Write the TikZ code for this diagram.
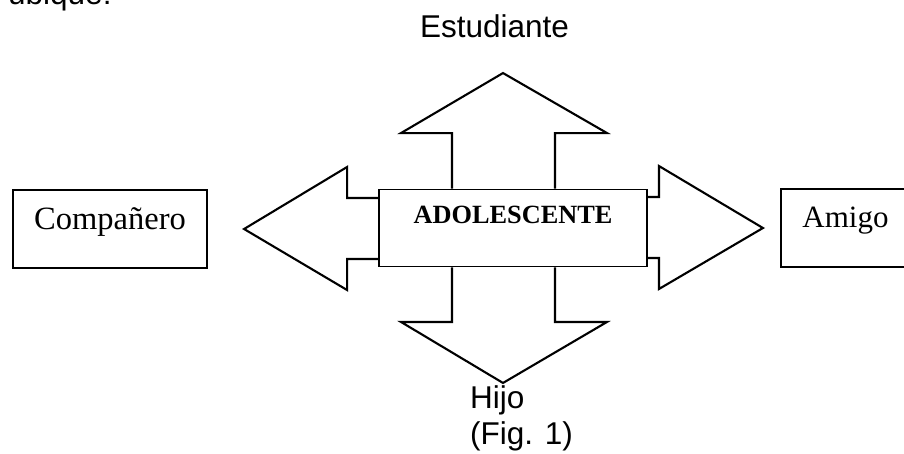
\documentclass[tikz,border=0pt]{standalone}
\usepackage{fontspec}
\setmainfont{Liberation Serif}
\setsansfont{Liberation Sans}
\usetikzlibrary{calc,positioning}

\begin{document}
\begin{tikzpicture}[x=1pt,y=-1pt,
	box/.style={draw,line width=1.9pt,inner sep=0pt,text height=12pt,text depth=12pt,font=\fontsize{32.5}{38}\selectfont},
	blk/.style={line width=2.1pt,line join=miter},
	lbl/.style={inner sep=0pt,font=\sffamily\fontsize{31.5}{36}\selectfont},
]
\useasboundingbox (0,0) rectangle (904,453);
\node[lbl,anchor=base west] (ubique) at (8,4) {ubique:};
\node[box,minimum width=194pt,minimum height=78pt] (compa) at (110,229) {Compañero};
\node[box,minimum width=268pt,minimum height=77pt,text height=10pt,text depth=19pt,font=\bfseries\fontsize{26.3}{30}\selectfont] (adol) at (513,228) {ADOLESCENTE};
\node[box,minimum width=129pt,minimum height=78pt,text depth=14pt,font=\fontsize{31}{37}\selectfont] (amigo) at (845.5,228) {Amigo};
% block arrows round the centre box
\draw[blk] ($(adol.west)+(0,-30)$) -| ++(-31,-31) -- ($(adol.west)+(-134,1)$) -- ($(adol.west)+(-31,62)$) |- ($(adol.west)+(0,31)$);
\draw[blk] ($(adol.east)+(0,-31)$) -| ++(11,-31) -- ($(adol.east)+(115,0)$) -- ($(adol.east)+(11,61)$) |- ($(adol.east)+(0,30)$);
\draw[blk] ($(adol.north)+(-61,0)$) |- ++(-51,-55.5) -- ($(adol.north)+(-10,-115.5)$) -- ($(adol.north)+(94,-55.5)$) -| ($(adol.north)+(42,0)$);
\draw[blk] ($(adol.south)+(-61,0)$) |- ++(-51,54.5) -- ($(adol.south)+(-10,115.5)$) -- ($(adol.south)+(94,54.5)$) -| ($(adol.south)+(42,0)$);
\node[lbl,anchor=base] (estud) at (494.5,37) {Estudiante};
\node[lbl,anchor=base west] (hijo) at (470,408) {Hijo};
\node[lbl,anchor=base west] (fig) at (470,444) {(Fig. 1)};

\end{tikzpicture}
\end{document}
